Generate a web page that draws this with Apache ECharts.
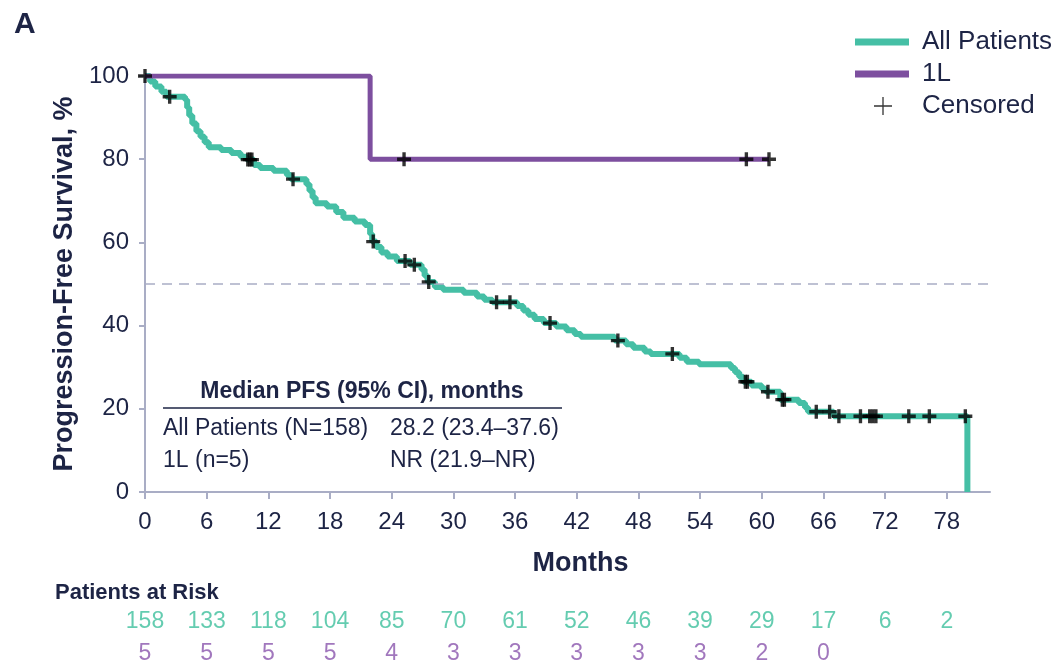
<!DOCTYPE html>
<html>
<head>
<meta charset="utf-8">
<script src="https://cdn.jsdelivr.net/npm/echarts@6/dist/echarts.min.js"></script>
<style>
	html, body { margin: 0; padding: 0; background: #fff; }
	#chart { width: 1058px; height: 662px; }
</style>
</head>
<body>
<div id="chart"></div>
<script>
// Kaplan-Meier steps: [month, PFS %]
const allPatients = [
	[0, 100], [0.5, 98.7], [1.0, 97.5], [1.6, 96.2], [2.1, 95.0], [3.9, 94.3], [4.1, 92.4],
	[4.3, 90.5], [4.6, 88.6], [5.0, 86.7], [5.4, 85.4], [5.8, 84.1], [6.2, 82.9], [7.4, 82.2],
	[8.4, 81.5], [9.3, 80.6], [9.9, 79.9], [10.6, 78.6], [11.2, 77.9], [12.5, 77.2], [13.8, 76.2],
	[14.2, 75.2], [15.7, 74.0], [16.0, 72.4], [16.3, 70.8], [16.6, 69.4], [17.7, 68.6], [18.6, 67.3],
	[19.3, 65.9], [20.4, 65.0], [21.4, 64.2], [21.9, 62.0], [22.1, 60.2], [22.5, 58.9], [23.0, 57.6],
	[23.6, 56.6], [24.5, 55.5], [25.8, 54.6], [26.9, 53.5], [27.2, 52.0], [27.5, 50.5], [28.2, 49.3],
	[29.0, 48.6], [31.0, 47.9], [32.3, 47.0], [33.0, 46.2], [33.8, 45.6], [36.2, 44.7], [36.8, 43.6],
	[37.3, 42.6], [37.9, 41.6], [38.8, 40.6], [40.0, 39.8], [41.0, 38.9], [41.8, 38.0], [42.4, 37.3],
	[45.7, 36.4], [46.8, 35.5], [47.5, 34.7], [48.6, 33.8], [49.2, 33.2], [52.0, 32.3], [52.7, 31.3],
	[53.9, 30.7], [57.0, 29.8], [57.4, 28.8], [57.8, 27.7], [58.2, 26.5], [59.0, 25.6], [60.0, 24.8],
	[60.4, 24.1], [61.8, 22.2], [63.6, 21.4], [64.2, 20.3], [64.5, 19.3], [67.0, 18.2], [80.0, 0]
];
const firstLine = [[0, 100], [21.9, 80], [60.7, 80]];

const censoredAll = [
	[2.4, 95.0], [10.0, 79.9], [10.2, 79.9], [10.4, 79.9], [14.4, 75.2], [22.2, 60.2], [25.3, 55.5],
	[26.2, 54.6], [27.6, 50.5], [34.2, 45.6], [35.5, 45.6], [39.4, 40.6], [46.0, 36.4], [51.3, 33.2],
	[58.4, 26.5], [58.6, 26.5], [60.6, 24.1], [62.0, 22.2], [62.2, 22.2], [65.3, 19.3], [66.6, 19.3],
	[67.5, 18.2], [69.6, 18.2], [70.5, 18.2], [70.8, 18.2], [71.1, 18.2], [74.3, 18.2], [76.3, 18.2],
	[79.8, 18.2]
];
const censored1L = [[0, 100], [25.2, 80], [58.5, 80], [60.7, 80]];

const monthTicks = [0, 6, 12, 18, 24, 30, 36, 42, 48, 54, 60, 66, 72, 78];
const riskAll = [158, 133, 118, 104, 85, 70, 61, 52, 46, 39, 29, 17, 6, 2];
const risk1L = [5, 5, 5, 5, 4, 3, 3, 3, 3, 3, 2, 0];

const green = "#45bfa5";
const purple = "#7d4f9f";
const ink = "#1d2445";
const axisGrey = "#a9adc5";
const sans = "'Liberation Sans', Arial, sans-serif";
const plusBold = "path://M3.8,0h2.4v3.8h3.8v2.4h-3.8v3.8h-2.4v-3.8h-3.8v-2.4h3.8z";
const plusThin = "path://M9,0h1.4v9h9v1.4h-9v9h-1.4v-9h-9v-1.4h9z";

let myChart = echarts.init(document.getElementById("chart"));
let option = {
	animation: false,
	grid: [
		{ left: 145, right: 68, top: 76, bottom: 170 },
		// risk table rows: row 0 at y=619, row 1 at y=651
		{ left: 145, right: 68, top: 619, height: 32 }
	],
	legend: [
		{
			data: ["All Patients", "1L"],
			orient: "vertical",
			left: 850,
			top: 24,
			icon: "rect",
			itemWidth: 54,
			itemHeight: 7,
			itemGap: 6,
			selectedMode: false,
			textStyle: { fontSize: 26, color: ink, fontFamily: sans, padding: [0, 0, 0, 8], lineHeight: 26 }
		},
		{
			data: [{ name: "Censored", icon: plusThin, itemStyle: { color: "#000" } }],
			left: 869,
			top: 88,
			itemWidth: 18,
			itemHeight: 18,
			selectedMode: false,
			textStyle: { fontSize: 26, color: ink, fontFamily: sans, padding: [0, 0, 0, 25] }
		}
	],
	xAxis: [
		{
			type: "value",
			min: 0,
			max: 82.2,
			name: "Months",
			nameLocation: "middle",
			nameGap: 58,
			nameTextStyle: { fontSize: 27, fontWeight: "bold", color: ink, fontFamily: sans, padding: [0, 0, 0, 26] },
			axisLine: { lineStyle: { color: axisGrey, width: 2 } },
			axisTick: { customValues: monthTicks, length: 7, lineStyle: { color: axisGrey, width: 2 } },
			axisLabel: { customValues: monthTicks, fontSize: 24, color: ink, fontFamily: sans, margin: 18 },
			splitLine: { show: false }
		},
		{
			type: "value",
			gridIndex: 1,
			min: 0,
			max: 82.2,
			show: false
		}
	],
	yAxis: [
		{
			type: "value",
			min: 0,
			max: 100,
			interval: 20,
			name: "Progression-Free Survival, %",
			nameLocation: "middle",
			nameRotate: 90,
			nameGap: 66,
			nameTextStyle: { fontSize: 27, fontWeight: "bold", color: ink, fontFamily: sans },
			axisLine: { show: true, lineStyle: { color: axisGrey, width: 2 } },
			axisTick: { show: true, length: 6, lineStyle: { color: axisGrey, width: 2 } },
			axisLabel: { fontSize: 24, color: ink, fontFamily: sans, margin: 16 },
			splitLine: { show: false }
		},
		{
			type: "value",
			gridIndex: 1,
			min: 0,
			max: 1,
			inverse: true,
			show: false
		}
	],
	series: [
		{
			name: "All Patients",
			type: "line",
			step: "end",
			data: allPatients,
			symbol: "none",
			color: green,
			lineStyle: { color: green, width: 6 },
			z: 2,
			markLine: {
				silent: true,
				symbol: ["none", "none"],
				label: { show: false },
				lineStyle: { type: [10, 7], color: axisGrey, width: 1.5 },
				data: [{ yAxis: 50 }]
			}
		},
		{
			name: "1L",
			type: "line",
			step: "end",
			data: firstLine,
			symbol: "none",
			color: purple,
			lineStyle: { color: purple, width: 5 },
			z: 3
		},
		{
			name: "Censored",
			type: "scatter",
			data: censoredAll.concat(censored1L),
			symbol: plusBold,
			symbolSize: 14,
			itemStyle: { color: "#000" },
			z: 5
		},
		{
			name: "riskAll",
			type: "scatter",
			xAxisIndex: 1,
			yAxisIndex: 1,
			symbolSize: 1,
			itemStyle: { color: "transparent" },
			data: riskAll.map((n, i) => [monthTicks[i], 0, n]),
			label: {
				show: true,
				position: "inside",
				offset: [0, 3],
				formatter: (p) => p.value[2],
				fontSize: 23,
				color: "#3dbf9c",
				fontFamily: sans
			}
		},
		{
			name: "risk1L",
			type: "scatter",
			xAxisIndex: 1,
			yAxisIndex: 1,
			symbolSize: 1,
			itemStyle: { color: "transparent" },
			data: risk1L.map((n, i) => [monthTicks[i], 1, n]),
			label: {
				show: true,
				position: "inside",
				offset: [0, 3],
				formatter: (p) => p.value[2],
				fontSize: 23,
				color: "#8a55ac",
				fontFamily: sans
			}
		}
	],
	graphic: [
		{ type: "text", left: 14, top: 10, style: { text: "A", fontSize: 30, fontWeight: "bold", fill: ink, fontFamily: sans } },
		{ type: "text", left: 55, top: 582, style: { text: "Patients at Risk", fontSize: 22, fontWeight: "bold", fill: ink, fontFamily: sans } },
		// median PFS box
		{ type: "text", x: 362, y: 392, style: { text: "Median PFS (95% CI), months", fontSize: 23, fontWeight: "bold", fill: ink, fontFamily: sans, align: "center", verticalAlign: "middle" } },
		{ type: "line", shape: { x1: 163, y1: 408, x2: 562, y2: 408 }, style: { stroke: ink, lineWidth: 1.5 } },
		{ type: "text", x: 163, y: 429, style: { text: "All Patients (N=158)", fontSize: 23, fill: ink, fontFamily: sans, verticalAlign: "middle" } },
		{ type: "text", x: 390, y: 429, style: { text: "28.2 (23.4\u201337.6)", fontSize: 23, fill: ink, fontFamily: sans, verticalAlign: "middle" } },
		{ type: "text", x: 163, y: 461, style: { text: "1L (n=5)", fontSize: 23, fill: ink, fontFamily: sans, verticalAlign: "middle" } },
		{ type: "text", x: 390, y: 461, style: { text: "NR (21.9\u2013NR)", fontSize: 23, fill: ink, fontFamily: sans, verticalAlign: "middle" } }
	]
};
myChart.setOption(option);
</script>
</body>
</html>
